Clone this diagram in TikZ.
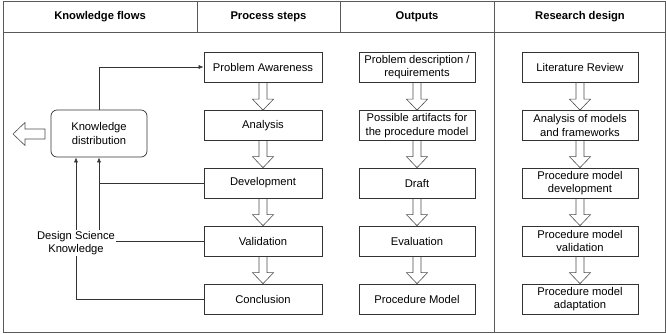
\documentclass[tikz,border=0pt]{standalone}
\usepackage{fontspec}
\setmainfont{Liberation Sans}
\usepackage{tikz}
\usetikzlibrary{positioning,calc,arrows.meta}

\tikzset{
  stepbox/.style={draw=black!80, line width=0.7pt, minimum width=118pt, minimum height=30pt, inner sep=0pt, align=center},
  outbox/.style={stepbox, minimum width=116pt},
  hollow/.style={draw=black!70, line width=0.6pt, to path={let \p1=(\tikztostart), \p2=(\tikztotarget) in
    (\x1-4pt,\y1) -- (\x1-4pt,\y2+11pt) -- (\x1-10.5pt,\y2+11pt) -- (\x2,\y2)
    -- (\x1+10.5pt,\y2+11pt) -- (\x1+4pt,\y2+11pt) -- (\x1+4pt,\y1)}},
  hollowleft/.style={draw=black!70, line width=0.6pt, to path={let \p1=(\tikztostart), \p2=(\tikztotarget) in
    (\x1,\y1+5pt) -- (\x2+12pt,\y1+5pt) -- (\x2+12pt,\y1+11.5pt) -- (\x2,\y2)
    -- (\x2+12pt,\y1-11.5pt) -- (\x2+12pt,\y1-5pt) -- (\x1,\y1-5pt) -- cycle}},
  flow/.style={draw=black!80, line width=0.6pt},
  tip/.style={flow, -{Latex[length=5pt,width=4pt]}}
}

\begin{document}
\begin{tikzpicture}[x=1pt, y=-1pt, every node/.style={font=\fontsize{11.2}{13.6}\selectfont}]
  \useasboundingbox (0,0) rectangle (666,333);

  % frame and header
  \draw[black!65, line width=0.8pt] (3,1) rectangle (665.5,332);
  \draw[black!65, line width=0.8pt] (3,32) -- (665.5,32);
  \draw[black!65, line width=0.8pt] (197,1) -- (197,32);
  \draw[black!65, line width=0.8pt] (340,1) -- (340,32);
  \draw[black!65, line width=0.8pt] (494,1) -- (494,332);
  \node[font=\fontsize{11.2}{13.6}\selectfont\bfseries] (h1) at (100,17) {Knowledge flows};
  \node[font=\fontsize{11.2}{13.6}\selectfont\bfseries] (h2) at (268.5,17) {Process steps};
  \node[font=\fontsize{11.2}{13.6}\selectfont\bfseries] (h3) at (417,17) {Outputs};
  \node[font=\fontsize{11.2}{13.6}\selectfont\bfseries] (h4) at (580,17) {Research design};

  % process steps
  \node[stepbox] (pa) at (263,67) {Problem Awareness};
  \node[stepbox] (an) at (263,125.5) {Analysis};
  \node[stepbox] (dev) at (263,183) {Development};
  \node[stepbox] (val) at (263,241) {Validation};
  \node[stepbox] (con) at (263,299) {Conclusion};

  % outputs
  \node[outbox] (pd) at (417,67) {Problem description /\\requirements};
  \node[outbox] (art) at (417,125.5) {Possible artifacts for\\the procedure model};
  \node[outbox] (dr) at (417,183) {Draft};
  \node[outbox] (ev) at (417,241) {Evaluation};
  \node[outbox] (pm) at (417,299) {Procedure Model};

  % research design
  \node[outbox] (lr) at (580,67) {Literature Review};
  \node[outbox] (amf) at (580,125.5) {Analysis of models\\and frameworks};
  \node[outbox] (pmd) at (580,183) {Procedure model\\development};
  \node[outbox] (pmv) at (580,241) {Procedure model\\validation};
  \node[outbox] (pma) at (580,299) {Procedure model\\adaptation};

  % hollow arrows between steps
  \draw[hollow] (pa.south) to (an.north);
  \draw[hollow] (an.south) to (dev.north);
  \draw[hollow] (dev.south) to (val.north);
  \draw[hollow] (val.south) to (con.north);
  \draw[hollow] (pd.south) to (art.north);
  \draw[hollow] (art.south) to (dr.north);
  \draw[hollow] (dr.south) to (ev.north);
  \draw[hollow] (ev.south) to (pm.north);
  \draw[hollow] (lr.south) to (amf.north);
  \draw[hollow] (amf.south) to (pmd.north);
  \draw[hollow] (pmd.south) to (pmv.north);
  \draw[hollow] (pmv.south) to (pma.north);

  % knowledge flows
  \node[draw=black!80, line width=0.7pt, rounded corners=6pt, minimum width=96pt, minimum height=47pt, align=center] (kd) at (99,133.5) {Knowledge\\distribution};
  \coordinate (spread) at (45,134);
  \coordinate (away) at (13,134);
  \draw[hollowleft] (spread) to (away);
  \node[align=center, inner sep=1pt] (dsk) at (76,243) {Design Science\\Knowledge};

  \draw[tip] (kd.north) |- (pa.west);
  \draw[flow] (dev.west) -- (dev.west -| kd.south);
  \draw[tip] (dsk.north -| kd.south) -- (kd.south);
  \draw[flow] (val.west) -- (val.west -| dsk.east);
  \draw[tip] (dsk.north) -- (dsk.north |- kd.south);
  \draw[flow] (con.west) -| (dsk.south);
\end{tikzpicture}
\end{document}
